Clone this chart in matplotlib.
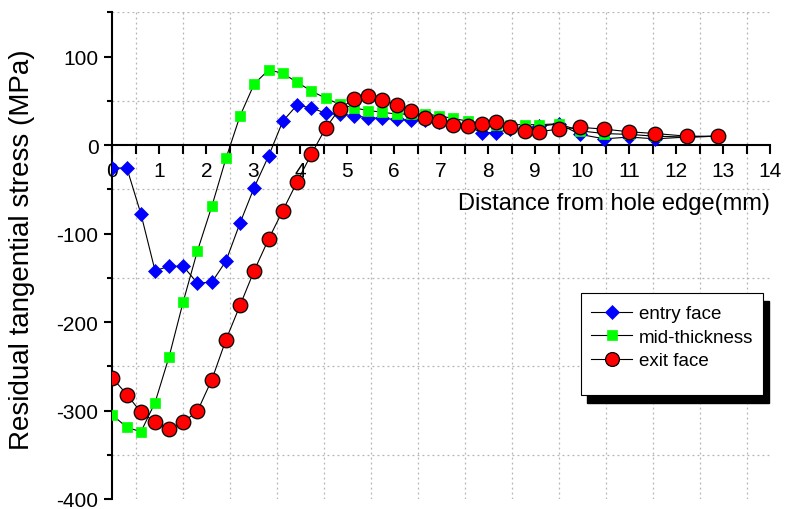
import matplotlib
matplotlib.use("Agg")
import matplotlib.pyplot as plt
from matplotlib.ticker import MultipleLocator
from matplotlib.patches import Rectangle

plt.rcParams['font.family'] = ['Liberation Sans', 'DejaVu Sans']
plt.rcParams['axes.unicode_minus'] = False

# ---- data ----
distance = [0, 0.31, 0.61, 0.91, 1.21, 1.51, 1.81, 2.12, 2.42, 2.72, 3.02, 3.33,
            3.63, 3.93, 4.24, 4.54, 4.84, 5.14, 5.45, 5.75, 6.05, 6.36, 6.66, 6.96,
            7.26, 7.57, 7.87, 8.17, 8.47, 8.78, 9.08, 9.5, 9.96, 10.47, 11.0, 11.56,
            12.23, 12.9]

entry_face = [-26, -26, -78, -142, -137, -137, -156, -155, -131, -88, -48, -12,
              27, 45, 42, 36, 35, 33, 31, 30, 29, 28, 28, 26,
              23, 21, 14, 14, 18, 19, 21, 24, 12, 7, 9, 7,
              9, 10]

mid_thickness = [-305, -319, -324, -291, -239, -177, -120, -69, -15, 33, 69, 85,
                 81, 71, 61, 53, 46, 42, 39, 37, 35, 35, 35, 33,
                 30, 27, 24, 23, 23, 23, 23, 24, 16, 13, 12, 10,
                 9, 10]

exit_face = [-263, -282, -302, -313, -321, -313, -301, -265, -220, -181, -142, -106,
             -74, -42, -10, 19, 41, 52, 55, 51, 45, 38, 30, 27,
             23, 21, 24, 26, 20, 16, 15, 18, 20, 18, 15, 13,
             10, 10]

series_labels = ["entry face", "mid-thickness", "exit face"]
x_label = "Distance from hole edge(mm)"
y_label = "Residual tangential stress (MPa)"

W, H = 787, 510
fig = plt.figure(figsize=(W / 100, H / 100), dpi=100)
ax = fig.add_axes([112.3 / W, 1 - 500 / H, (770 - 112.3) / W, (500 - 13.3) / H])

line_kw = dict(color='black', lw=0.8, zorder=3)
h1, = ax.plot(distance, entry_face, marker='D', ms=7.5, mfc='#0000FF', mec='#0000FF',
              mew=0.5, **line_kw)
h2, = ax.plot(distance, mid_thickness, marker='s', ms=7, mfc='#00FF00', mec='#00FF00',
              mew=0.5, **line_kw)
h3, = ax.plot(distance, exit_face, marker='o', ms=10.5, mfc='#FF0000', mec='black',
              mew=0.9, **line_kw)

ax.set_xlim(0, 14)
ax.set_ylim(-400, 150)
ax.xaxis.set_major_locator(MultipleLocator(1))
ax.xaxis.set_minor_locator(MultipleLocator(0.5))
ax.yaxis.set_major_locator(MultipleLocator(100))
ax.yaxis.set_minor_locator(MultipleLocator(50))

for s in ['top', 'right']:
    ax.spines[s].set_visible(False)
ax.spines['bottom'].set_position(('data', 0))
ax.spines['bottom'].set_linewidth(1.5)
ax.spines['left'].set_linewidth(1.5)
ax.spines['bottom'].set_zorder(2.5)

ax.tick_params(axis='x', which='both', direction='out', length=6.5, width=1.5,
               labelsize=15, pad=5)
ax.tick_params(axis='y', which='major', direction='out', length=6, width=1.5,
               labelsize=15, pad=4)
ax.tick_params(axis='y', which='minor', direction='out', length=3.5, width=1.5)

ax.grid(which='minor', color='#b4b4b4', linestyle=(0, (1.5, 2.5)), lw=0.9)
ax.grid(which='major', visible=False)
ax.set_axisbelow(True)

ax.text(14, -66, x_label, ha='right', va='center', fontsize=17)
fig.text(22 / W, 1 - 250 / H, y_label, rotation=90, ha='center', va='center',
         fontsize=20)

# legend frame with hard black shadow
lx0, ly0, lx1, ly1 = 581, 294, 763, 396
fig.add_artist(Rectangle(((lx0 + 6) / W, 1 - (ly1 + 8) / H), (lx1 - lx0) / W,
                         (ly1 - ly0) / H, transform=fig.transFigure,
                         facecolor='black', edgecolor='black', zorder=1))
fig.add_artist(Rectangle((lx0 / W, 1 - ly1 / H), (lx1 - lx0) / W, (ly1 - ly0) / H,
                         transform=fig.transFigure, facecolor='white',
                         edgecolor='black', lw=0.8, zorder=2))
leg = fig.legend([h1, h2, h3], series_labels, loc='upper left',
                 bbox_to_anchor=(591 / W, 1 - 306 / H), frameon=False, fontsize=13.5,
                 handlelength=2.2, handletextpad=0.35, labelspacing=0.35,
                 borderaxespad=0, borderpad=0, markerscale=0.95)
leg.set_zorder(5)

fig.savefig("out.png", dpi=100)
